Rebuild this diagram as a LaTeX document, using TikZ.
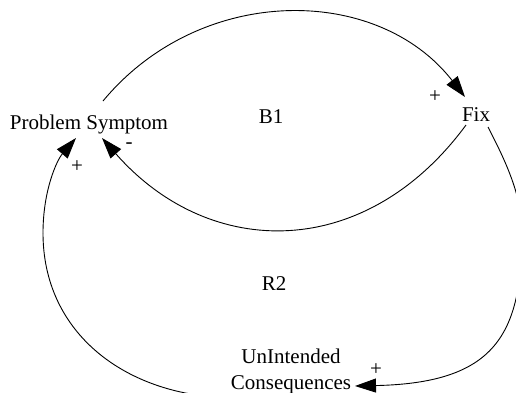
\documentclass[tikz,border=0pt]{standalone}
\usepackage{fontspec}
\setmainfont{Liberation Serif}
\usetikzlibrary{arrows.meta,calc}
\tikzset{
  lbl/.style={inner sep=0pt, font=\fontsize{21}{26}\selectfont},
  loopname/.style={inner sep=0pt, font=\fontsize{21}{26}\selectfont},
  sign/.style={inner sep=0pt, font=\fontsize{21}{23}\selectfont},
  link/.style={line width=0.9pt, -{Triangle[length=21pt,width=14pt]}}
}
\begin{document}
\begin{tikzpicture}[x=1pt,y=-1pt]
\useasboundingbox (0,0) rectangle (516,392);
% variables
\node[lbl, anchor=base] (PS) at (89,129) {Problem Symptom};
\node[lbl, anchor=base] (Fix) at (476,121) {Fix};
\node[lbl, align=center] (UC) at (291,371) {UnIntended\\Consequences};
% loop names
\node[loopname, anchor=base] (B1) at (271,123) {B1};
\node[loopname, anchor=base] (R2) at (274,290) {R2};
% links
\draw[link] ($(PS.base)+(14,-28)$) .. controls (200,-16) and (377,-16) .. ($(Fix.base)+(-11,-24)$);
\draw[link] ($(Fix.base)+(-10,4)$) .. controls (366,261) and (210,261) .. ($(PS.base)+(13,9)$);
\draw[line width=0.9pt] ($(Fix.base)+(12,6)$) .. controls (505,160) and (522,195) .. (522,232) coordinate (rgt);
\draw[link] (rgt) .. controls (522,335) and (495,383) .. ($(UC.center)+(64,15)$);
\draw[line width=0.9pt] ($(UC.center)+(-76,26)$) .. controls (120,390) and (43,330) .. (43,233) coordinate (lft);
\draw[link] (lft) .. controls (43,190) and (57,160) .. ($(PS.base)+(-13,9)$);
% polarities
\node[sign] (s1) at (435,97) {+};
\node[sign] (s2) at (129,146) {-};
\node[sign] (s3) at (77,167) {+};
\node[sign] (s4) at (376,370) {+};
\end{tikzpicture}
\end{document}
